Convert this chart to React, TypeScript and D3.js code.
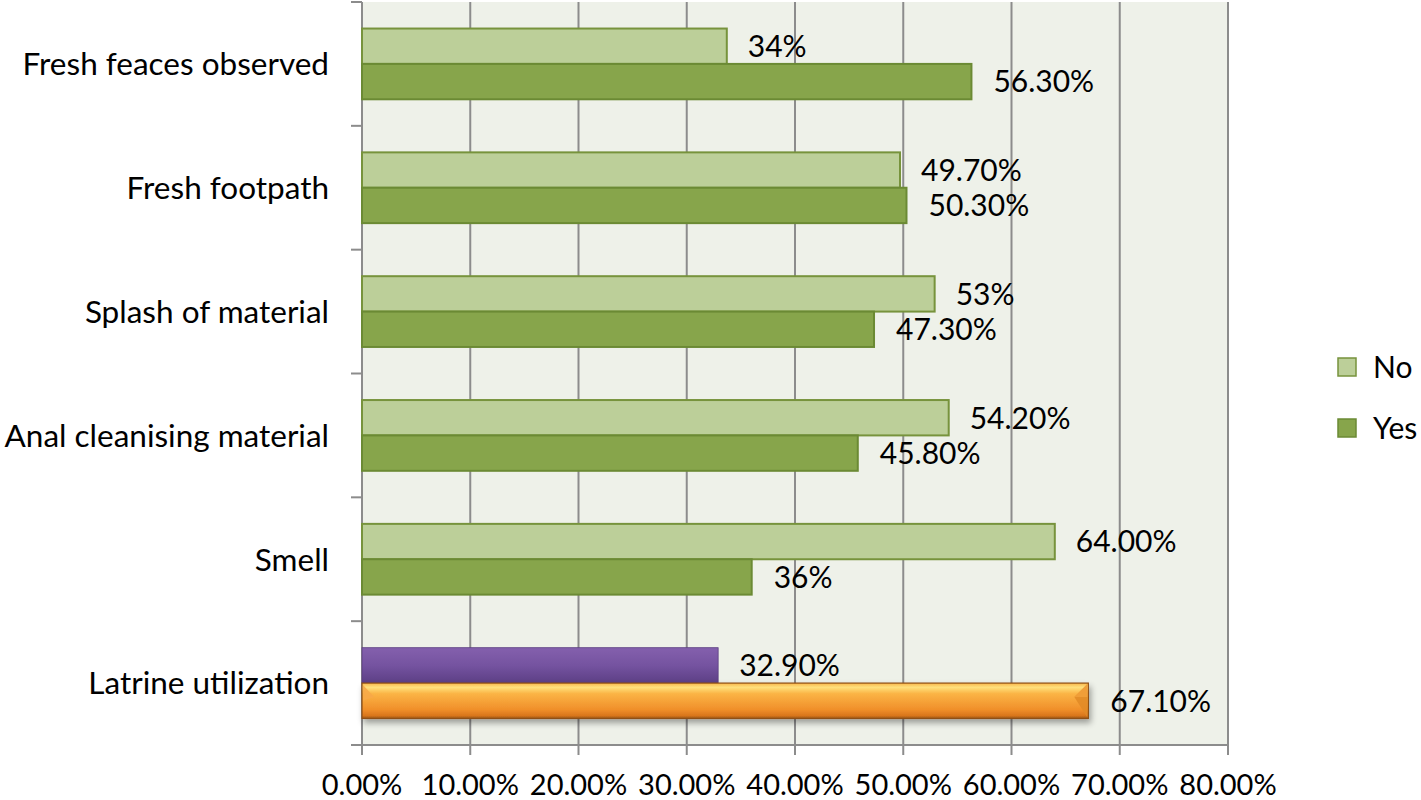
import React from 'react'
import * as d3 from 'd3'

const categories = [
  'Fresh feaces observed',
  'Fresh footpath',
  'Splash of material',
  'Anal cleanising material',
  'Smell',
  'Latrine utilization',
]
const seriesNames = ['No', 'Yes']
const noValues = [0.337, 0.497, 0.529, 0.542, 0.64, 0.329]
const yesValues = [0.563, 0.503, 0.473, 0.458, 0.36, 0.671]
const noLabels = ['34%', '49.70%', '53%', '54.20%', '64.00%', '32.90%']
const yesLabels = ['56.30%', '50.30%', '47.30%', '45.80%', '36%', '67.10%']
const xTicks = [0, 0.1, 0.2, 0.3, 0.4, 0.5, 0.6, 0.7, 0.8]

const W = 1421
const H = 800
const FONT = 'Lato, "Open Sans", sans-serif'

const App = () => {
  const x = d3.scaleLinear().domain([0, 0.8]).range([362, 1228])
  const y = d3.scaleBand<string>().domain(categories).range([2, 745])
  const sub = d3.scaleBand<string>().domain(seriesNames).range([0, y.bandwidth()]).paddingInner(0).paddingOuter(0.75)
  const bh = sub.bandwidth()
  const fmt = d3.format('.2%')

  const rows = categories.map((c, i) => ({
    cat: c,
    no: noValues[i],
    yes: yesValues[i],
    noLabel: noLabels[i],
    yesLabel: yesLabels[i],
    special: c === 'Latrine utilization',
  }))

  return (
    <svg width={W} height={H} style={{ position: 'absolute', left: 0, top: 0, background: '#fff' }} fontFamily={FONT}>
      <defs>
        <linearGradient id="purple" x1="0" y1="0" x2="0" y2="1">
          <stop offset="0" stopColor="#8460ad" />
          <stop offset="0.5" stopColor="#7553a0" />
          <stop offset="1" stopColor="#5c3f85" />
        </linearGradient>
        <linearGradient id="orange" x1="0" y1="0" x2="0" y2="1">
          <stop offset="0" stopColor="#f9b54a" />
          <stop offset="0.12" stopColor="#ffe07c" />
          <stop offset="0.3" stopColor="#fbb445" />
          <stop offset="0.75" stopColor="#f08f2a" />
          <stop offset="0.92" stopColor="#d9761c" />
          <stop offset="1" stopColor="#9c5614" />
        </linearGradient>
        <filter id="shadow" x="-5%" y="-40%" width="110%" height="200%">
          <feGaussianBlur in="SourceAlpha" stdDeviation="3" />
          <feOffset dx="2" dy="4" result="b" />
          <feComponentTransfer>
            <feFuncA type="linear" slope="0.35" />
          </feComponentTransfer>
          <feMerge>
            <feMergeNode />
            <feMergeNode in="SourceGraphic" />
          </feMerge>
        </filter>
      </defs>

      {/* plot area */}
      <rect x={x(0)} y={2} width={x(0.8) - x(0)} height={743} fill="#eef1e9" />
      {xTicks.map((t) => (
        <line key={t} x1={x(t)} x2={x(t)} y1={2} y2={755} stroke="#8c8c8c" strokeWidth={2} />
      ))}
      <line x1={x(0) - 11} x2={x(0.8)} y1={745} y2={745} stroke="#8c8c8c" strokeWidth={2} />
      {categories.map((c) => (
        <line key={c} x1={x(0) - 11} x2={x(0)} y1={y(c)!} y2={y(c)!} stroke="#8c8c8c" strokeWidth={2} />
      ))}

      {/* bars */}
      {rows.map((r) => {
        const y0 = y(r.cat)!
        const yNo = y0 + sub('No')!
        const yYes = y0 + sub('Yes')!
        if (r.special) {
          const xe = x(r.yes)
          return (
            <g key={r.cat}>
              <rect x={x(0)} y={yNo} width={x(r.no) - x(0)} height={bh} fill="url(#purple)" stroke="#5a3d80" strokeWidth={0.8} />
              <g filter="url(#shadow)">
                <rect x={x(0)} y={yYes} width={xe - x(0)} height={bh} fill="url(#orange)" stroke="#8f4f12" strokeWidth={1.2} />
              </g>
              <polygon points={`${x(0) + 1},${yYes + 2} ${x(0) + 12},${yYes + bh / 2 - 4} ${x(0) + 1},${yYes + bh / 2}`} fill="#f7a848" opacity={0.9} />
              <polygon points={`${xe - 1},${yYes + 1} ${xe - 14},${yYes + 14} ${xe - 1},${yYes + bh - 1}`} fill="#e18a26" opacity={0.85} />
              <polygon points={`${xe - 1},${yYes + 1} ${xe - 14},${yYes + 14} ${xe - 1},${yYes + 14}`} fill="#f3a13c" opacity={0.8} />
            </g>
          )
        }
        return (
          <g key={r.cat}>
            <rect x={x(0)} y={yNo} width={x(r.no) - x(0)} height={bh} fill="#bccf99" stroke="#77933c" strokeWidth={2} />
            <rect x={x(0)} y={yYes} width={x(r.yes) - x(0)} height={bh} fill="#87a54b" stroke="#6b8a34" strokeWidth={2} />
          </g>
        )
      })}

      {/* value labels */}
      {rows.map((r) => {
        const y0 = y(r.cat)!
        return (
          <g key={r.cat + 'l'} fontSize={30} fill="#000">
            <text x={x(r.no) + 21} y={y0 + sub('No')! + bh / 2} dy="0.36em" aria-label={fmt(r.no)}>{r.noLabel}</text>
            <text x={x(r.yes) + 22} y={y0 + sub('Yes')! + bh / 2} dy="0.36em" aria-label={fmt(r.yes)}>{r.yesLabel}</text>
          </g>
        )
      })}

      {/* category labels */}
      {categories.map((c) => (
        <text key={c} x={329} y={y(c)! + y.bandwidth() / 2} dy="0.36em" textAnchor="end" fontSize={31.5} fill="#000">{c}</text>
      ))}

      {/* x tick labels */}
      {xTicks.map((t) => (
        <text key={t} x={x(t)} y={795} textAnchor="middle" fontSize={29} fill="#000">{fmt(t)}</text>
      ))}

      {/* legend */}
      {seriesNames.map((s, i) => (
        <g key={s} transform={`translate(1338, ${358 + i * 61})`}>
          <rect width={18} height={18} fill={i === 0 ? '#bccf99' : '#87a54b'} stroke={i === 0 ? '#77933c' : '#6b8a34'} strokeWidth={1.5} />
          <text x={35} y={9} dy="0.36em" fontSize={30} fill="#000">{s}</text>
        </g>
      ))}
    </svg>
  )
}

export default App
